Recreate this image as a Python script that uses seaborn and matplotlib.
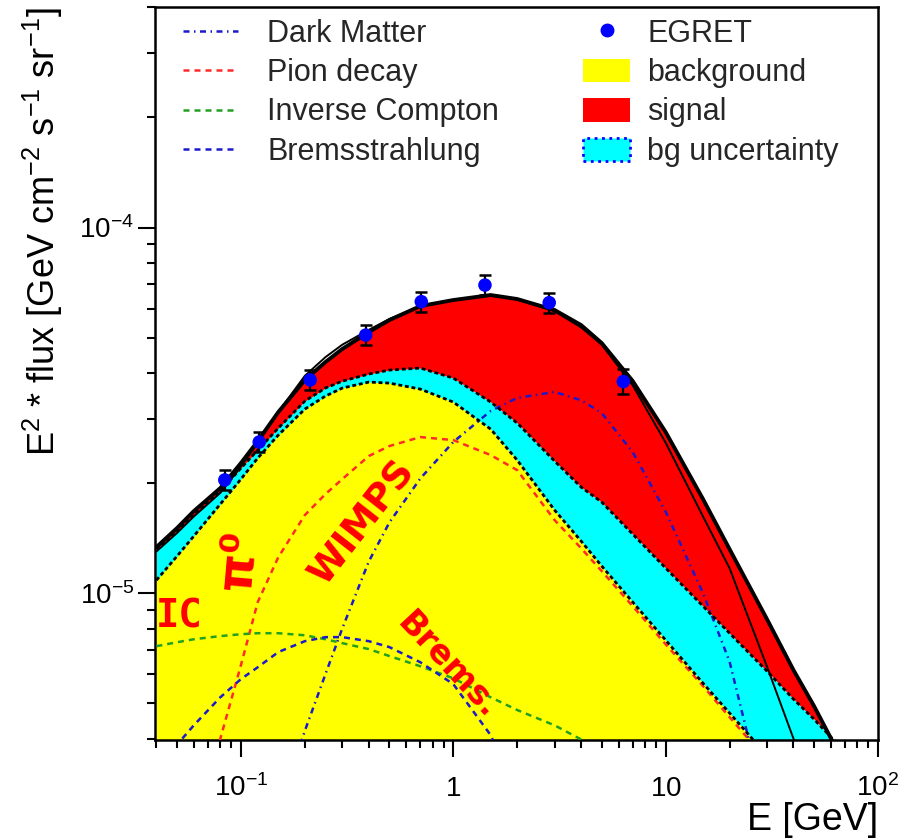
import numpy as np
import pandas as pd
import matplotlib
matplotlib.use("Agg")
import matplotlib.pyplot as plt
import seaborn as sns
from matplotlib.lines import Line2D
from matplotlib.patches import Patch
from matplotlib.ticker import FixedLocator, LogLocator, NullFormatter, FixedFormatter

# ---------------- data (flux values in units of 1e-5 GeV cm^-2 s^-1 sr^-1) ----------------
FLUX_UNIT = 1e-5
energy = [0.04, 0.05, 0.06, 0.08, 0.1, 0.12, 0.15, 0.2, 0.25, 0.3, 0.4, 0.5, 0.7, 1.0,
          1.5, 2, 3, 4, 5, 7, 10, 15, 20, 30, 40, 50, 60, 70, 100]
background = [1.085, 1.262, 1.432, 1.752, 2.050, 2.341, 2.706, 3.187, 3.459, 3.638, 3.778,
              3.754, 3.614, 3.332, 2.810, 2.311, 1.687, 1.388, 1.186, 0.945, 0.744, 0.567,
              0.470, 0.360, 0.296, 0.256, 0.228, 0.206, 0.162]
bg_upper = [1.319, 1.478, 1.635, 1.901, 2.198, 2.461, 2.828, 3.352, 3.640, 3.800, 3.974,
            4.075, 4.126, 3.875, 3.332, 2.919, 2.297, 1.950, 1.774, 1.450, 1.171, 0.921,
            0.777, 0.612, 0.513, 0.452, 0.404, 0.370, 0.298]
total_fit = [1.336, 1.506, 1.676, 1.938, 2.268, 2.605, 3.128, 3.826, 4.285, 4.652, 5.177,
             5.583, 6.098, 6.333, 6.536, 6.374, 5.947, 5.410, 4.831, 3.802, 2.758, 1.808,
             1.319, 0.849, 0.616, 0.491, 0.401, 0.338, 0.232]
alt_fit = [1.300, 1.460, 1.620, 1.880, 2.220, 2.570, 3.130, 3.930, 4.420, 4.780, 5.250,
           5.620, 6.100, 6.330, 6.520, 6.360, 5.900, 5.330, 4.780, 3.700, 2.580, 1.620,
           1.170, 0.630, 0.400, 0.260, 0.180, 0.130, 0.060]
dark_matter = [0.010, 0.020, 0.035, 0.070, 0.110, 0.160, 0.250, 0.420, 0.600, 0.800, 1.220,
               1.560, 2.060, 2.590, 3.150, 3.420, 3.550, 3.370, 3.110, 2.430, 1.670, 1.000,
               0.650, 0.250, 0.090, 0.030, 0.012, 0.005, 0.001]
pion_decay = [0.020, 0.050, 0.120, 0.400, 0.635, 0.945, 1.254, 1.635, 1.866, 2.050, 2.371,
              2.525, 2.672, 2.622, 2.386, 2.170, 1.584, 1.327, 1.149, 0.921, 0.725, 0.557,
              0.458, 0.349, 0.289, 0.250, 0.222, 0.200, 0.158]
inverse_compton = [0.716, 0.734, 0.748, 0.763, 0.772, 0.777, 0.777, 0.767, 0.748, 0.730,
                   0.703, 0.673, 0.631, 0.585, 0.519, 0.479, 0.435, 0.398, 0.372, 0.332,
                   0.290, 0.240, 0.210, 0.170, 0.140, 0.120, 0.105, 0.090, 0.070]
bremsstrahlung = [0.320, 0.385, 0.435, 0.519, 0.582, 0.627, 0.690, 0.739, 0.758, 0.758,
                  0.739, 0.712, 0.647, 0.564, 0.409, 0.280, 0.180, 0.120, 0.090, 0.060,
                  0.040, 0.025, 0.018, 0.012, 0.009, 0.007, 0.006, 0.005, 0.003]

egret_energy = [0.084, 0.122, 0.212, 0.387, 0.707, 1.41, 2.83, 6.32]
egret_flux = [2.04, 2.59, 3.83, 5.08, 6.27, 6.96, 6.23, 3.79]
egret_err_low = [0.13, 0.16, 0.24, 0.31, 0.38, 0.43, 0.38, 0.28]
egret_err_high = [0.13, 0.17, 0.25, 0.33, 0.41, 0.45, 0.41, 0.30]

x_tick_values = [0.1, 1, 10, 100]
x_tick_labels = [r"$10^{-1}$", r"$1$", r"$10$", r"$10^{2}$"]
y_tick_values = [1e-5, 1e-4]
y_tick_labels = [r"$10^{-5}$", r"$10^{-4}$"]

# ---------------- style ----------------
sns.set_theme(style="ticks")
plt.rcParams["font.family"] = ["Liberation Sans", "DejaVu Sans"]
plt.rcParams["mathtext.fontset"] = "custom"
plt.rcParams["mathtext.rm"] = "Liberation Sans"
plt.rcParams["mathtext.it"] = "Liberation Sans:italic"
plt.rcParams["mathtext.bf"] = "Liberation Sans:bold"

W, H = 913, 838
fig = plt.figure(figsize=(W / 100, H / 100), dpi=100, facecolor="white")
ax = fig.add_axes([155 / W, 1 - 740 / H, 723 / W, 733 / H])
ax.set_xscale("log")
ax.set_yscale("log")
ax.set_xlim(0.0394, 100)
ax.set_ylim(3.966e-6, 4.01e-4)
ax.set_facecolor("white")

E = np.array(energy)
bg = np.array(background) * FLUX_UNIT
bgu = np.array(bg_upper) * FLUX_UNIT
tot = np.array(total_fit) * FLUX_UNIT
alt = np.array(alt_fit) * FLUX_UNIT

df = pd.DataFrame({
    "E": E,
    "dm": np.array(dark_matter) * FLUX_UNIT,
    "pion": np.array(pion_decay) * FLUX_UNIT,
    "ic": np.array(inverse_compton) * FLUX_UNIT,
    "brems": np.array(bremsstrahlung) * FLUX_UNIT,
    "bg": bg, "bgu": bgu, "tot": tot, "alt": alt,
})

# fills
ax.fill_between(E, 1e-8, bg, color="#ffff00", lw=0, zorder=1)
ax.fill_between(E, bg, bgu, color="#00ffff", lw=0, zorder=1)
ax.fill_between(E, bgu, tot, where=tot >= bgu, interpolate=True, color="#ff0000", lw=0, zorder=1)

# component curves
dash = (0, (2.4, 2.0))
dashdot = (0, (2.4, 1.8, 0.6, 1.8))
sns.lineplot(data=df, x="E", y="pion", ax=ax, color="#ff2a2a", lw=1.8, linestyle=dash, zorder=3)
sns.lineplot(data=df, x="E", y="ic", ax=ax, color="#22a022", lw=1.8, linestyle=dash, zorder=3)
sns.lineplot(data=df, x="E", y="brems", ax=ax, color="#1a1acc", lw=1.8, linestyle=dash, zorder=3)
sns.lineplot(data=df, x="E", y="dm", ax=ax, color="#1a1acc", lw=1.8, linestyle=dashdot, zorder=3)

# band edges
sns.lineplot(data=df, x="E", y="bg", ax=ax, color="black", lw=2.0, linestyle=(0, (1.4, 1.0)), zorder=4)
sns.lineplot(data=df, x="E", y="bgu", ax=ax, color="black", lw=2.0, linestyle=(0, (1.4, 1.0)), zorder=4)

# fits
sns.lineplot(data=df, x="E", y="alt", ax=ax, color="black", lw=1.4, zorder=5)
sns.lineplot(data=df, x="E", y="tot", ax=ax, color="black", lw=2.8, zorder=5)

# EGRET data
eF = np.array(egret_flux) * FLUX_UNIT
eerr = [np.array(egret_err_low) * FLUX_UNIT, np.array(egret_err_high) * FLUX_UNIT]
ax.errorbar(egret_energy, eF, yerr=eerr, fmt="none", ecolor="black", elinewidth=1.6,
            capsize=4.5, capthick=1.8, zorder=6)
sns.scatterplot(x=egret_energy, y=eF, ax=ax, color="#0000ff", s=95, edgecolor="none", zorder=7)

# annotations
red = "#ff0000"
ax.text(0.0511, 8.65e-6, "IC", color=red, fontsize=28, fontweight="bold",
        family="DejaVu Sans Mono", ha="center", va="center", zorder=8)
ax.text(0.0968, 1.231e-5, "π⁰", color=red, fontsize=35, fontweight="bold",
        family="DejaVu Sans", rotation=85, ha="center", va="center",
        rotation_mode="anchor", zorder=8)
ax.text(0.375, 1.563e-5, "WIMPS", color=red, fontsize=27, fontweight="bold",
        family="DejaVu Sans", rotation=52, ha="center", va="center",
        rotation_mode="anchor", zorder=8)
ax.text(0.943, 6.35e-6, "Brems.", color=red, fontsize=24, fontweight="bold",
        family="DejaVu Sans", rotation=-47, ha="center", va="center",
        rotation_mode="anchor", zorder=8)

# axes, ticks
for s in ax.spines.values():
    s.set_linewidth(1.8)
    s.set_color("black")
ax.xaxis.set_major_locator(FixedLocator(x_tick_values))
ax.xaxis.set_major_formatter(FixedFormatter(x_tick_labels))
ax.xaxis.set_minor_locator(LogLocator(base=10, subs=np.arange(2, 10), numticks=20))
ax.xaxis.set_minor_formatter(NullFormatter())
ax.yaxis.set_major_locator(FixedLocator(y_tick_values))
ax.yaxis.set_major_formatter(FixedFormatter(y_tick_labels))
ax.yaxis.set_minor_locator(LogLocator(base=10, subs=np.arange(2, 10), numticks=20))
ax.yaxis.set_minor_formatter(NullFormatter())
ax.tick_params(which="both", direction="out", top=False, right=False, color="black",
               width=1.5, labelcolor="black")
ax.tick_params(which="major", length=12)
ax.tick_params(which="minor", length=6)
ax.tick_params(axis="y", which="major", labelsize=20, pad=3)
ax.tick_params(axis="x", which="major", labelsize=20, pad=28)
for lab in ax.get_xticklabels():
    lab.set_verticalalignment("baseline")

ax.set_xlabel("E [GeV]", fontsize=27, loc="right", color="black")
ax.xaxis.set_label_coords(1.0, -0.085)
ax.set_ylabel(r"E$^{2}$ * flux [GeV cm$^{-2}$ s$^{-1}$ sr$^{-1}$]", fontsize=26,
              loc="top", color="black")
ax.yaxis.set_label_coords(-0.125, 1.0)

# legends
h_left = [
    Line2D([], [], color="#1a1acc", lw=1.8, linestyle=dashdot),
    Line2D([], [], color="#ff2a2a", lw=1.8, linestyle=dash),
    Line2D([], [], color="#22a022", lw=1.8, linestyle=dash),
    Line2D([], [], color="#1a1acc", lw=1.8, linestyle=dash),
]
l_left = ["Dark Matter", "Pion decay", "Inverse Compton", "Bremsstrahlung"]
leg1 = ax.legend(h_left, l_left, loc="upper left", bbox_to_anchor=(183 / W, 1 - 18.5 / H),
                 bbox_transform=fig.transFigure, frameon=False, fontsize=22,
                 handlelength=1.8, handletextpad=0.95, labelspacing=0.31,
                 borderpad=0, borderaxespad=0)
ax.add_artist(leg1)
h_right = [
    Line2D([], [], marker="o", color="#0000ff", linestyle="none", markersize=9),
    Patch(facecolor="#ffff00", edgecolor="none"),
    Patch(facecolor="#ff0000", edgecolor="none"),
    Patch(facecolor="#00ffff", edgecolor="#0000ff", linestyle=":", linewidth=2),
]
l_right = ["EGRET", "background", "signal", "bg uncertainty"]
leg2 = ax.legend(h_right, l_right, loc="upper left", bbox_to_anchor=(583 / W, 1 - 18.5 / H),
                 bbox_transform=fig.transFigure, frameon=False, fontsize=22,
                 handlelength=1.55, handletextpad=0.55, labelspacing=0.31, handleheight=0.8,
                 borderpad=0, borderaxespad=0)

fig.savefig("out.png", dpi=100, facecolor="white")
